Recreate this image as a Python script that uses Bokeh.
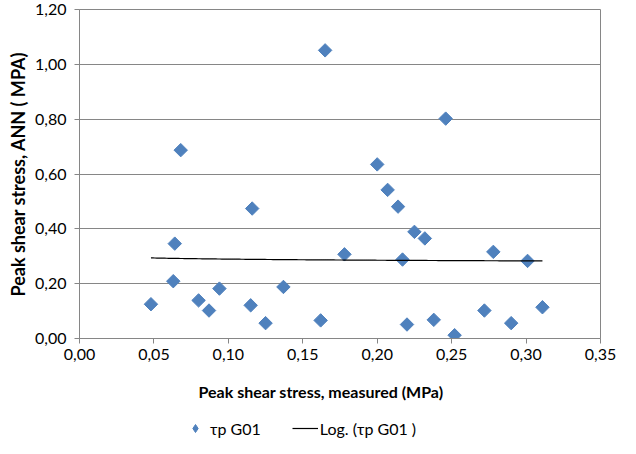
import numpy as np
from bokeh.plotting import figure
from bokeh.layouts import column
from bokeh.models import (ColumnDataSource, FixedTicker, CustomJSTickFormatter,
                          Legend, LegendItem, Title)
from bokeh.embed import file_html
from bokeh.resources import INLINE

# Data
measured = [0.048, 0.068, 0.064, 0.063, 0.080, 0.087, 0.094, 0.116, 0.115, 0.125,
            0.137, 0.165, 0.162, 0.178, 0.200, 0.207, 0.214, 0.225, 0.232, 0.217,
            0.220, 0.238, 0.246, 0.252, 0.272, 0.278, 0.290, 0.301, 0.311]
ann = [0.125, 0.687, 0.346, 0.209, 0.139, 0.102, 0.182, 0.474, 0.121, 0.056,
       0.188, 1.051, 0.066, 0.307, 0.635, 0.542, 0.481, 0.389, 0.365, 0.288,
       0.051, 0.068, 0.802, 0.012, 0.102, 0.316, 0.056, 0.283, 0.114]
# logarithmic trendline y = a*ln(x) + b, coefficients
trend_coef = [-0.0059, 0.276]
x_ticks = [0.0, 0.05, 0.10, 0.15, 0.20, 0.25, 0.30, 0.35]
y_ticks = [0.0, 0.2, 0.4, 0.6, 0.8, 1.0, 1.2]
series_name = "τp G01"
trend_name = "Log. (τp G01 )"
x_title = "Peak shear stress,  measured (MPa)"
y_title = "Peak shear stress, ANN ( MPA)"

FONT = "Lato"
BLUE = "#4F81BD"
GRAY = "#868686"

tx = np.linspace(min(measured), max(measured), 200)
ty = trend_coef[0] * np.log(tx) + trend_coef[1]

p = figure(width=620, height=418, x_range=(0, 0.35), y_range=(0, 1.2),
           output_backend="svg", toolbar_location=None,
           min_border_left=79, min_border_right=20, min_border_top=9,
           min_border_bottom=80)

src = ColumnDataSource(dict(x=measured, y=ann))
p.scatter("x", "y", source=src, marker="square", angle=np.pi / 4, size=9.5,
          fill_color=BLUE, line_color=BLUE)
p.line(tx, ty, line_color="black", line_width=1.2)

fmt = CustomJSTickFormatter(code="return tick.toFixed(2).replace('.', ',');")
for ax, ticks in ((p.xaxis[0], x_ticks), (p.yaxis[0], y_ticks)):
    ax.ticker = FixedTicker(ticks=ticks)
    ax.formatter = fmt
    ax.axis_line_color = GRAY
    ax.major_tick_line_color = GRAY
    ax.major_tick_in = 0
    ax.major_tick_out = 5
    ax.minor_tick_line_color = None
    ax.major_label_text_font = FONT
    ax.major_label_text_font_size = "16px"
    ax.major_label_text_color = "black"

p.xaxis.major_label_standoff = 5
p.yaxis.major_label_standoff = 8
p.yaxis.axis_label = y_title
p.yaxis.axis_label_text_font = FONT
p.yaxis.axis_label_text_font_size = "18px"
p.yaxis.axis_label_text_font_style = "bold"
p.yaxis.axis_label_text_color = "black"
p.yaxis.axis_label_standoff = 3

p.xgrid.grid_line_color = None
p.ygrid.grid_line_color = GRAY
p.ygrid.grid_line_width = 1
p.outline_line_color = GRAY
p.outline_line_width = 1
p.background_fill_color = "white"
p.border_fill_color = "white"

xt = Title(text=x_title, align="left", offset=119, text_font=FONT,
           text_font_size="16px", text_font_style="bold", text_color="black",
           standoff=34)
p.add_layout(xt, "below")

# legend strip below the chart
lg = figure(width=620, height=20, x_range=(0, 1), y_range=(0, 1),
            output_backend="svg", toolbar_location=None,
            x_axis_type=None, y_axis_type=None,
            min_border_left=0, min_border_right=0, min_border_top=0,
            min_border_bottom=0)
lg.outline_line_color = None
lg.xgrid.grid_line_color = None
lg.ygrid.grid_line_color = None
lg.background_fill_color = "white"
lg.border_fill_color = "white"
sc_l = lg.scatter(x=[-5], y=[-5], marker="diamond", size=9.5,
                  fill_color=BLUE, line_color=BLUE)
ln_l = lg.line(x=[-5, -4], y=[-5, -5], line_color="black", line_width=1.2)

legend = Legend(items=[LegendItem(label=series_name, renderers=[sc_l]),
                       LegendItem(label=trend_name, renderers=[ln_l])],
                orientation="horizontal", location=(103, 0),
                glyph_width=26, glyph_height=20, label_height=16,
                label_standoff=2, spacing=31, padding=0, margin=0,
                border_line_color=None, background_fill_alpha=0,
                label_text_font=FONT, label_text_font_size="16px",
                label_text_color="black")
lg.add_layout(legend)

page = column(p, lg, spacing=0)
open("out.html", "w").write(file_html(page, INLINE))
